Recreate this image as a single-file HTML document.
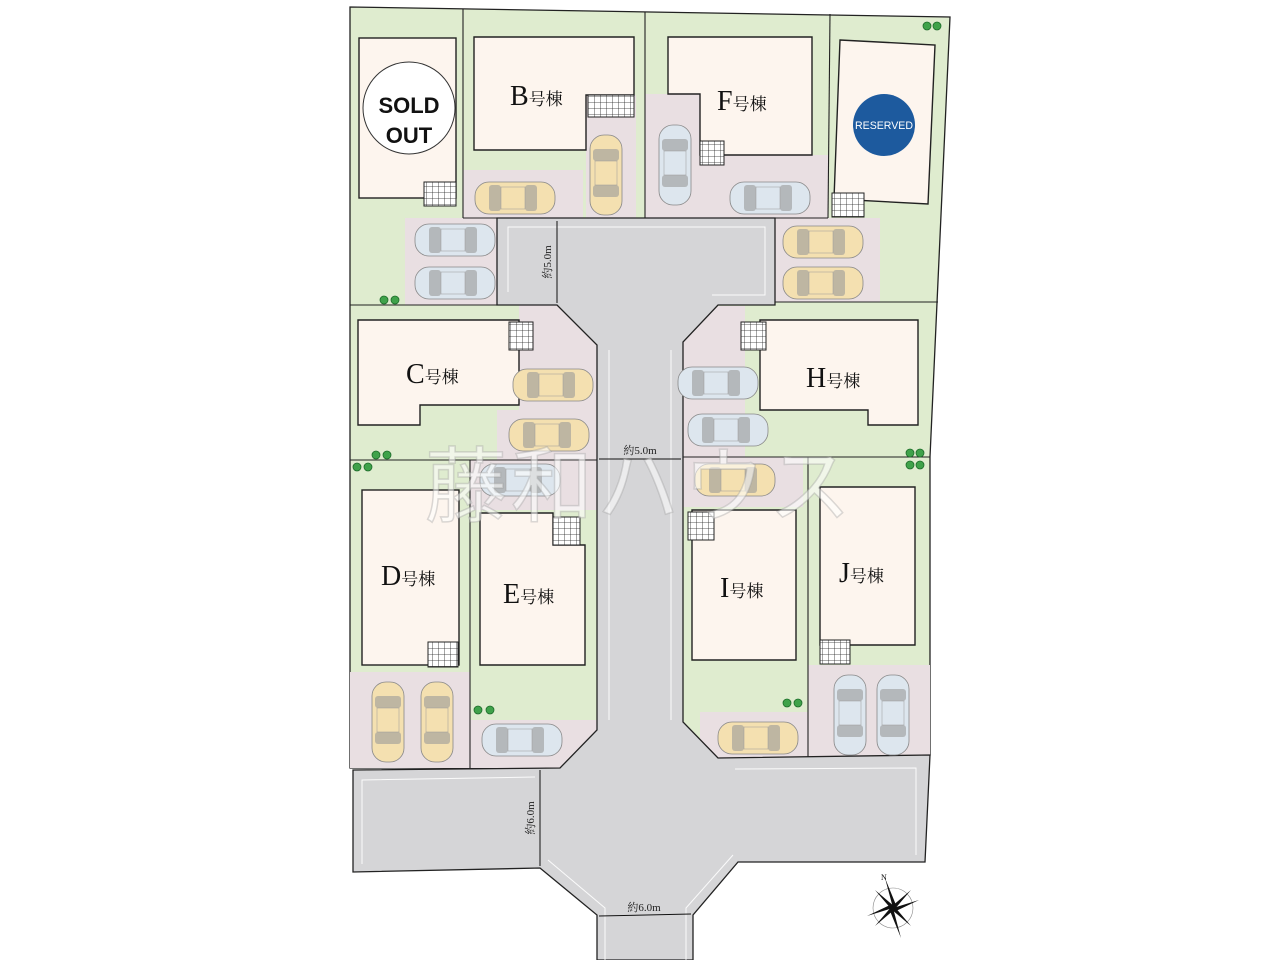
<!DOCTYPE html>
<html><head><meta charset="utf-8"><style>
html,body{margin:0;padding:0;background:#fff;width:1280px;height:960px;overflow:hidden}
svg{display:block}
.lbl{font-family:"Liberation Serif","Noto Serif CJK SC",serif;fill:#111}
.dim{font-family:"Liberation Serif","Noto Serif CJK SC",serif;font-size:11px;fill:#222}
</style></head><body>
<svg width="1280" height="960" viewBox="0 0 1280 960" xmlns="http://www.w3.org/2000/svg">
<defs>
<g id="carh"><rect x="-40" y="-16" width="80" height="32" rx="14" fill="currentColor" stroke="#888" stroke-width="0.8"/><rect x="-26" y="-13" width="12" height="26" rx="3" fill="#999" opacity=".6"/><rect x="10" y="-13" width="12" height="26" rx="3" fill="#999" opacity=".6"/><rect x="-14" y="-11" width="24" height="22" fill="currentColor" stroke="#999" stroke-width=".5"/></g>
<g id="carv"><rect x="-16" y="-40" width="32" height="80" rx="14" fill="currentColor" stroke="#888" stroke-width="0.8"/><rect x="-13" y="-26" width="26" height="12" rx="3" fill="#999" opacity=".6"/><rect x="-13" y="10" width="26" height="12" rx="3" fill="#999" opacity=".6"/><rect x="-11" y="-14" width="22" height="24" fill="currentColor" stroke="#999" stroke-width=".5"/></g>
<pattern id="grid" width="6" height="6" patternUnits="userSpaceOnUse"><rect width="6" height="6" fill="#fff"/><path d="M0 0H6M0 0V6" stroke="#222" stroke-width=".8"/></pattern>
</defs>
<!-- site base green -->
<polygon points="350,7 950,17 930,457 930,755 540,768 350,768" fill="#dfeccf" stroke="#222" stroke-width="1.3"/>
<!-- parking pinkish areas -->
<g fill="#e9dfe2">
<rect x="405" y="218" width="92" height="87"/>
<rect x="463" y="170" width="120" height="48"/>
<rect x="586" y="95" width="50" height="123"/>
<rect x="645" y="94" width="55" height="124"/>
<rect x="700" y="155" width="128" height="63"/>
<rect x="775" y="218" width="105" height="84"/>
<polygon points="497,305 557,305 597,345 597,460 497,460 497,410 519,410 519,305"/>
<rect x="470" y="460" width="127" height="50"/>
<polygon points="718,306 745,306 745,460 683,460 683,342"/>
<rect x="683" y="457" width="120" height="50"/>
<rect x="350" y="672" width="120" height="96"/>
<polygon points="470,720 597,720 597,730 560,768 470,768"/>
<rect x="700" y="712" width="108" height="46"/>
<rect x="808" y="665" width="122" height="92"/>
</g>
<!-- road -->
<g fill="#d5d5d7" stroke="#222" stroke-width="1.3">
<polygon points="497,218 775,218 775,305 718,305 683,342 683,722 718,758 930,755 925,862 738,862 693,915 693,960 597,960 597,915 540,868 353,872 353,770 560,768 597,730 597,345 557,305 497,305"/>
</g>
<g fill="none" stroke="#fff" stroke-width="1" opacity=".9">
<polyline points="508,292 508,227 765,227 765,295 712,295"/>
<polyline points="362,864 362,780 535,777"/>
<polyline points="916,855 916,768 735,769"/>
<polyline points="548,860 605,908 605,960"/>
<polyline points="733,855 686,908 686,960"/>
<line x1="609" y1="350" x2="609" y2="720"/><line x1="671" y1="350" x2="671" y2="720"/>
</g>
<!-- lot lines -->
<g stroke="#222" stroke-width="1.1" fill="none">
<line x1="463" y1="9" x2="463" y2="218"/>
<line x1="645" y1="12" x2="645" y2="218"/>
<line x1="830" y1="14" x2="828" y2="218"/>
<line x1="463" y1="218" x2="497" y2="218"/>
<line x1="775" y1="218" x2="828" y2="218"/>
<line x1="350" y1="305" x2="497" y2="305"/>
<line x1="775" y1="302" x2="938" y2="302"/>
<line x1="350" y1="460" x2="597" y2="460"/>
<line x1="683" y1="457" x2="930" y2="457"/>
<line x1="470" y1="460" x2="470" y2="768"/>
<line x1="808" y1="457" x2="808" y2="757"/>
</g>
<!-- buildings -->
<g fill="#fdf5ee" stroke="#222" stroke-width="1.4">
<rect x="359" y="38" width="97" height="160"/>
<polygon points="474,37 634,37 634,95 586,95 586,150 474,150"/>
<polygon points="668,37 812,37 812,155 700,155 700,94 668,94"/>
<polygon points="840,40 935,45 928,204 834,199"/>
<polygon points="358,320 503,320 519,320 519,405 420,405 420,425 358,425"/>
<polygon points="760,320 918,320 918,425 868,425 868,410 760,410"/>
<rect x="362" y="490" width="97" height="175"/>
<polygon points="480,513 553,513 553,545 585,545 585,665 480,665"/>
<polygon points="692,510 796,510 796,660 692,660"/>
<polygon points="820,487 915,487 915,645 820,645"/>
</g>
<!-- stairs -->
<g fill="url(#grid)" stroke="#222" stroke-width="1">
<rect x="424" y="182" width="32" height="24"/>
<rect x="588" y="95" width="46" height="22"/>
<rect x="700" y="141" width="24" height="24"/>
<rect x="832" y="193" width="32" height="24"/>
<rect x="509" y="322" width="24" height="28"/>
<rect x="741" y="322" width="25" height="28"/>
<rect x="428" y="642" width="30" height="25"/>
<rect x="553" y="517" width="27" height="28"/>
<rect x="688" y="512" width="26" height="28"/>
<rect x="820" y="640" width="30" height="24"/>
</g>
<!-- cars -->
<g color="#f4e0b0"><use href="#carh" x="515" y="198"/><use href="#carv" x="606" y="175"/><use href="#carh" x="823" y="242"/><use href="#carh" x="823" y="283"/><use href="#carh" x="553" y="385"/><use href="#carh" x="549" y="435"/><use href="#carh" x="735" y="480"/><use href="#carv" x="388" y="722"/><use href="#carv" x="437" y="722"/><use href="#carh" x="758" y="738"/></g>
<g color="#dde6ee"><use href="#carv" x="675" y="165"/><use href="#carh" x="770" y="198"/><use href="#carh" x="455" y="240"/><use href="#carh" x="455" y="283"/><use href="#carh" x="520" y="480"/><use href="#carh" x="718" y="383"/><use href="#carh" x="728" y="430"/><use href="#carh" x="522" y="740"/><use href="#carv" x="850" y="715"/><use href="#carv" x="893" y="715"/></g>
<!-- bushes -->
<g fill="#3fa24a" stroke="#1d6b2a" stroke-width=".8">
<circle cx="927" cy="26" r="4"/><circle cx="937" cy="26" r="4"/>
<circle cx="384" cy="300" r="4"/><circle cx="395" cy="300" r="4"/>
<circle cx="376" cy="455" r="4"/><circle cx="387" cy="455" r="4"/>
<circle cx="357" cy="467" r="4"/><circle cx="368" cy="467" r="4"/>
<circle cx="910" cy="453" r="4"/><circle cx="920" cy="453" r="4"/><circle cx="910" cy="465" r="4"/><circle cx="920" cy="465" r="4"/>
<circle cx="478" cy="710" r="4"/><circle cx="490" cy="710" r="4"/>
<circle cx="787" cy="703" r="4"/><circle cx="798" cy="703" r="4"/>
</g>
<!-- sold / reserved -->
<circle cx="409" cy="108" r="46" fill="#fff" stroke="#333" stroke-width="1"/>
<text x="409" y="113" font-family="Liberation Sans,sans-serif" font-weight="bold" font-size="22" text-anchor="middle" fill="#111">SOLD</text>
<text x="409" y="143" font-family="Liberation Sans,sans-serif" font-weight="bold" font-size="22" text-anchor="middle" fill="#111">OUT</text>
<circle cx="884" cy="125" r="31" fill="#1d5a9e"/>
<text x="884" y="129" font-family="Liberation Sans,sans-serif" font-size="11" text-anchor="middle" fill="#fff" textLength="58" lengthAdjust="spacingAndGlyphs">RESERVED</text>
<!-- labels -->
<g class="lbl">
<text x="510" y="105" font-size="28">B<tspan font-size="17">号棟</tspan></text>
<text x="717" y="110" font-size="28">F<tspan font-size="17">号棟</tspan></text>
<text x="406" y="383" font-size="28">C<tspan font-size="17">号棟</tspan></text>
<text x="806" y="387" font-size="28">H<tspan font-size="17">号棟</tspan></text>
<text x="381" y="585" font-size="28">D<tspan font-size="17">号棟</tspan></text>
<text x="503" y="603" font-size="28">E<tspan font-size="17">号棟</tspan></text>
<text x="720" y="597" font-size="28">I<tspan font-size="17">号棟</tspan></text>
<text x="839" y="582" font-size="28">J<tspan font-size="17">号棟</tspan></text>
</g>
<!-- dimensions -->
<g stroke="#111" stroke-width="1">
<line x1="557" y1="221" x2="557" y2="303"/><line x1="599" y1="459" x2="681" y2="459"/>
<line x1="540" y1="770" x2="540" y2="866"/><line x1="599" y1="916" x2="691" y2="914"/>
</g>
<text class="dim" transform="translate(551,262) rotate(-90)" text-anchor="middle">約5.0m</text>
<text class="dim" x="640" y="454" text-anchor="middle">約5.0m</text>
<text class="dim" transform="translate(534,818) rotate(-90)" text-anchor="middle">約6.0m</text>
<text class="dim" x="644" y="911" text-anchor="middle">約6.0m</text>
<!-- compass -->
<g transform="translate(893,908)">
<circle r="20" fill="none" stroke="#888" stroke-width=".6"/>
<polygon points="-8,-30 3,-3 0,0" fill="#111"/><polygon points="8,30 -3,3 0,0" fill="#111"/>
<polygon points="-26,8 0,0 -3,-3" fill="#111"/><polygon points="26,-8 0,0 3,3" fill="#111"/>
<polygon points="-18,-18 2,-1 -1,2" fill="#111"/><polygon points="18,18 -2,1 1,-2" fill="#111"/>
<polygon points="18,-18 1,2 -2,-1" fill="#111"/><polygon points="-18,18 -1,-2 2,1" fill="#111"/>
<text x="-12" y="-28" font-size="8" font-family="Liberation Serif,serif">N</text>
</g>
<!-- watermark -->
<text x="640" y="515" font-family="Liberation Sans,'Noto Sans CJK JP',sans-serif" font-size="82" text-anchor="middle" fill="#fff" fill-opacity=".55" stroke="#999" stroke-opacity=".35" stroke-width="1.5" letter-spacing="4">藤和ハウス</text>
</svg>
</body></html>
